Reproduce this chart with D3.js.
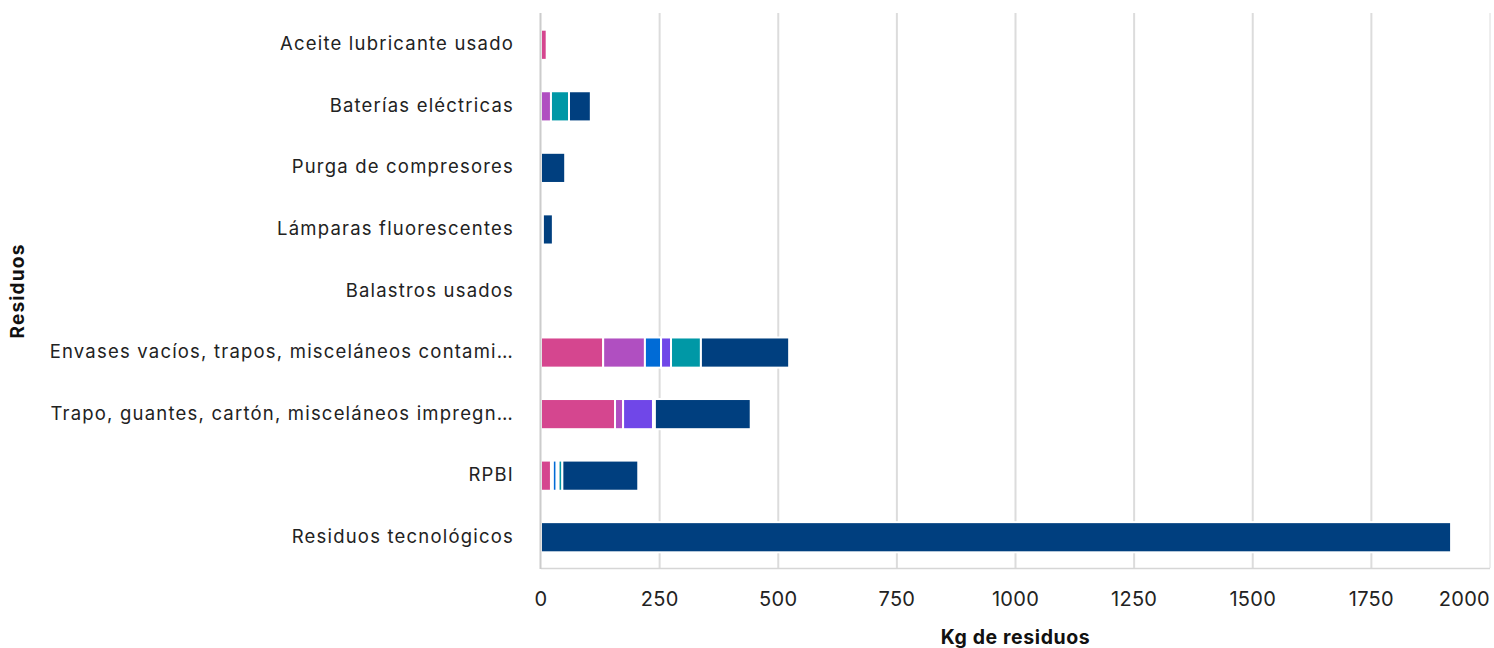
<!DOCTYPE html>
<html>
<head>
<meta charset="utf-8">
<script src="https://cdn.jsdelivr.net/npm/d3@7"></script>
<style>
  html, body { margin: 0; padding: 0; background: #fff; }
  svg { display: block; font-family: Inter, "Open Sans", sans-serif; }
</style>
</head>
<body>
<svg id="chart" width="1494" height="648"></svg>
<script>
// Waste categories, top to bottom
const categories = [
  "Aceite lubricante usado",
  "Baterías eléctricas",
  "Purga de compresores",
  "Lámparas fluorescentes",
  "Balastros usados",
  "Envases vacíos, trapos, misceláneos contami…",
  "Trapo, guantes, cartón, misceláneos impregn…",
  "RPBI",
  "Residuos tecnológicos"
];

// Stacked series (kg), one value per category, in stacking order
const seriesKeys = ["s1", "s2", "s3", "s4", "s5", "s6"];
const s1 = [12, 0, 0, 4, 0, 131, 156, 21, 0];
const s2 = [0, 21, 0, 0, 0, 88, 17, 4, 0];
const s3 = [0, 0, 0, 0, 0, 34, 0, 8, 0];
const s4 = [0, 0, 0, 0, 0, 21, 63, 4, 0];
const s5 = [0, 38, 0, 0, 0, 63, 4, 8, 0];
const s6 = [0, 46, 51, 21, 0, 186, 202, 160, 1918];
const seriesColors = ["#d5468f", "#b04fc1", "#006bd6", "#7047e8", "#0098a6", "#003f7f"];

const xTicks = [0, 250, 500, 750, 1000, 1250, 1500, 1750, 2000];
const xTitle = "Kg de residuos";
const yTitle = "Residuos";

const seriesValues = [s1, s2, s3, s4, s5, s6];
const rows = categories.map((c, i) => {
  const r = { category: c };
  seriesKeys.forEach((k, j) => { r[k] = seriesValues[j][i]; });
  return r;
});

const svg = d3.select("#chart");
const plot = { left: 541, right: 1490, top: 14, bottom: 568 };

const x = d3.scaleLinear().domain([0, 2000]).range([plot.left, plot.right]);
const y = d3.scaleBand().domain(categories).range([plot.top, plot.bottom])
  .paddingInner(0.51).paddingOuter(0.255);

// Vertical grid
svg.append("g")
  .selectAll("line")
  .data(xTicks.slice(1))
  .join("line")
  .attr("x1", d => x(d)).attr("x2", d => x(d))
  .attr("y1", plot.top - 1).attr("y2", plot.bottom)
  .attr("stroke", "#dcdcdc")
  .attr("stroke-width", d => d === 2000 ? 1 : 2);

// Bottom border of the plot
svg.append("line")
  .attr("x1", plot.left).attr("x2", plot.right)
  .attr("y1", plot.bottom + 0.5).attr("y2", plot.bottom + 0.5)
  .attr("stroke", "#d6d6d6").attr("stroke-width", 1.5);

// Stacked bars
const stacked = d3.stack().keys(seriesKeys)(rows);
svg.append("g")
  .selectAll("g")
  .data(stacked)
  .join("g")
  .attr("fill", (d, i) => seriesColors[i])
  .selectAll("rect")
  .data(d => d.filter(p => p[1] > p[0]))
  .join("rect")
  .attr("x", d => x(d[0]))
  .attr("width", d => x(d[1]) - x(d[0]))
  .attr("y", d => y(d.data.category))
  .attr("height", y.bandwidth())
  .attr("stroke", "#fff")
  .attr("stroke-width", 2);

// Category axis line
svg.append("line")
  .attr("x1", plot.left - 0.5).attr("x2", plot.left - 0.5)
  .attr("y1", plot.top - 1).attr("y2", plot.bottom + 1)
  .attr("stroke", "#cccccc").attr("stroke-width", 2);

// Category labels
svg.append("g")
  .selectAll("text")
  .data(categories)
  .join("text")
  .attr("x", 514)
  .attr("y", d => y(d) + y.bandwidth() / 2)
  .attr("dy", "0.3em")
  .attr("text-anchor", "end")
  .attr("font-size", 18.5)
  .attr("letter-spacing", "1.2px")
  .attr("fill", "#222")
  .text(d => d);

// Value axis tick labels (last one kept inside the frame)
svg.append("g")
  .selectAll("text")
  .data(xTicks)
  .join("text")
  .attr("x", d => x(d))
  .attr("y", 606)
  .attr("text-anchor", d => d === 2000 ? "end" : "middle")
  .attr("font-size", 20)
  .attr("letter-spacing", "0.3px")
  .attr("fill", "#222")
  .text(d => d);

// Axis titles
svg.append("text")
  .attr("x", (plot.left + plot.right) / 2)
  .attr("y", 644)
  .attr("text-anchor", "middle")
  .attr("font-size", 19.5)
  .attr("font-weight", 700)
  .attr("letter-spacing", "0.6px")
  .attr("fill", "#111")
  .text(xTitle);

svg.append("text")
  .attr("transform", `translate(24,${(plot.top + plot.bottom) / 2}) rotate(-90)`)
  .attr("text-anchor", "middle")
  .attr("font-size", 19)
  .attr("font-weight", 700)
  .attr("letter-spacing", "1.2px")
  .attr("fill", "#111")
  .text(yTitle);
</script>
</body>
</html>
